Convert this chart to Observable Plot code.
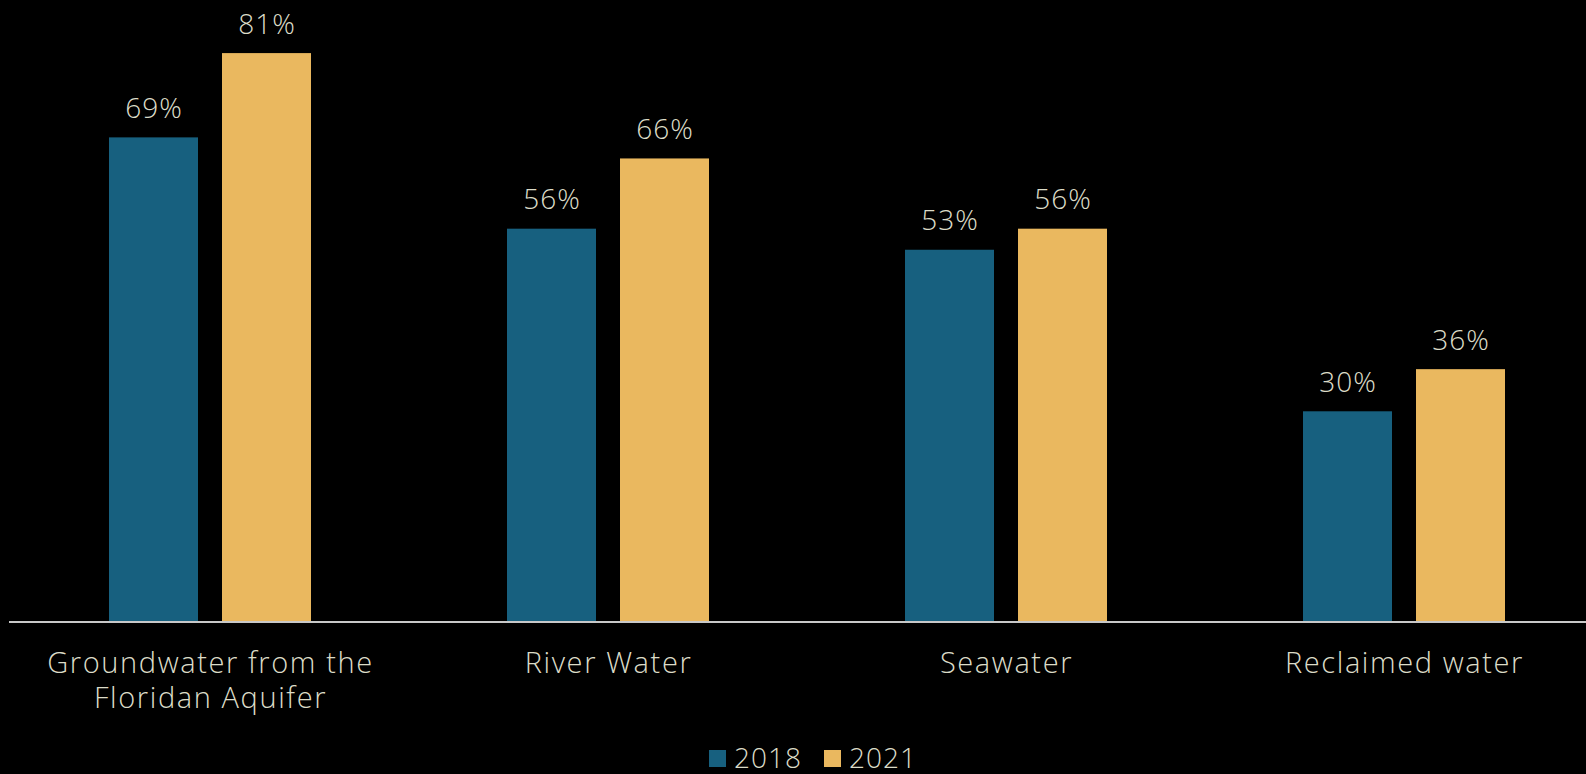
<!DOCTYPE html>
<html><head><meta charset="utf-8">
<script src="https://cdn.jsdelivr.net/npm/d3@7"></script>
<script src="https://cdn.jsdelivr.net/npm/@observablehq/plot@0.6"></script>
<style>
html,body{margin:0;padding:0;background:#000;overflow:hidden;width:1586px;height:774px;}
#chart{position:absolute;left:0;top:0;width:1610px;}
#chart svg{max-width:none !important;}
#chart svg g[aria-label^="fx-axis"] text{letter-spacing:1.6px;}
#legend{position:absolute;top:744px;left:709px;display:flex;align-items:center;font-family:"Open Sans",sans-serif;font-weight:300;letter-spacing:1px;font-size:28px;color:#dcdcc8;line-height:26px;height:26px;}
#legend .item{display:flex;align-items:center;margin-right:22px;}
#legend .sw{width:17px;height:17px;margin-right:8px;margin-top:2px;}
#legend .tx{display:inline-block;height:26px;line-height:26px;overflow:visible;}
</style></head><body>
<div id="chart"></div><div id="legend"></div>
<script>
const categories = ["Groundwater from the Floridan Aquifer","River Water","Seawater","Reclaimed water"];
const categoryLabels = ["Groundwater from the\nFloridan Aquifer","River Water","Seawater","Reclaimed water"];
const years = ["2018","2021"];
const values2018 = [69,56,53,30];
const values2021 = [81,66,56,36];
const colors = ["#17607f","#eab85f"];

const data = categories.flatMap((c,i)=>[
  {category:c,year:years[0],value:values2018[i]},
  {category:c,year:years[1],value:values2021[i]}
]);

const chart = Plot.plot({
  width:1603,height:730,marginLeft:11,marginRight:0,marginTop:25,marginBottom:108,
  style:{background:"#000",color:"#dcdcc8",fontFamily:"'Open Sans', sans-serif",fontSize:"28px",fontWeight:300,letterSpacing:"1px",maxWidth:"none"},
  fx:{domain:categories,paddingInner:0.4916,paddingOuter:0.2458,label:null},
  x:{domain:years,paddingInner:0.216,paddingOuter:0,axis:null},
  y:{domain:[0,85],axis:null},
  color:{domain:years,range:colors},
  marks:[
    Plot.barY(data,{fx:"category",x:"year",y:"value",fill:"year"}),
    Plot.text(data,{fx:"category",x:"year",y:"value",text:d=>d.value+"%",dy:-20,lineAnchor:"bottom",fill:"#dcdcc8",fontSize:28}),
    Plot.ruleY([0],{stroke:"#c8c8c8",strokeWidth:2,dy:-0.5,insetLeft:-100,insetRight:-100}),
    Plot.axisFx({anchor:"bottom",tickSize:0,tickPadding:25,lineAnchor:"top",lineHeight:1.22,
      tickFormat:d=>categoryLabels[categories.indexOf(d)],fontSize:29,fill:"#dcdcc8",label:null})
  ]
});
document.getElementById("chart").appendChild(chart);

const legend = document.getElementById("legend");
years.forEach((y,i)=>{
  const item = document.createElement("div"); item.className="item";
  const sw = document.createElement("span"); sw.className="sw"; sw.style.background=colors[i];
  const tx = document.createElement("span"); tx.className="tx"; tx.textContent=y;
  item.appendChild(sw); item.appendChild(tx); legend.appendChild(item);
});
</script>
</body></html>
